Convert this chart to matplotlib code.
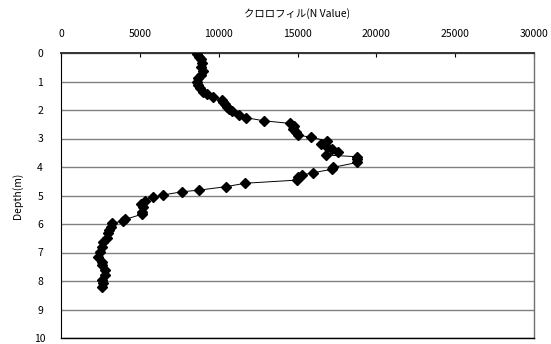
import matplotlib
matplotlib.use("Agg")
import matplotlib.pyplot as plt

plt.rcParams['font.family'] = ['Noto Sans CJK JP', 'DejaVu Sans']

# chlorophyll readings (N value) against depth (m)
chl = [8650, 8760, 8860, 8930, 8860, 8990, 8860, 8710, 8650, 8710,
       8820, 8990, 9240, 9660, 10200, 10300, 10410, 10510, 10680, 10830,
       11310, 11740, 12880, 14530, 14800, 14740, 14910, 15060, 15860, 16860,
       16500, 16860, 17180, 17600, 16810, 18800, 18800, 18800, 17280, 17180,
       16010, 15270, 15060, 14960, 11680, 10470, 8780, 7660, 6500, 5820,
       5330, 5060, 5180, 5120, 5120, 4060, 3910, 3220, 3150, 3060,
       3000, 2900, 2680, 2580, 2470, 2370, 2580, 2580, 2790, 2790,
       2580, 2680, 2580]
depth = [0.04, 0.13, 0.22, 0.34, 0.48, 0.62, 0.77, 0.89, 1.01, 1.12,
         1.24, 1.36, 1.44, 1.55, 1.65, 1.71, 1.79, 1.88, 1.96, 2.05,
         2.18, 2.27, 2.38, 2.47, 2.56, 2.68, 2.78, 2.88, 2.96, 3.08,
         3.19, 3.29, 3.38, 3.46, 3.58, 3.64, 3.73, 3.84, 4.01, 4.08,
         4.20, 4.28, 4.36, 4.46, 4.57, 4.69, 4.81, 4.87, 4.98, 5.06,
         5.18, 5.30, 5.39, 5.57, 5.66, 5.84, 5.89, 5.98, 6.09, 6.21,
         6.33, 6.50, 6.62, 6.80, 6.97, 7.15, 7.32, 7.44, 7.61, 7.79,
         7.96, 8.08, 8.20]

x_ticks = [0, 5000, 10000, 15000, 20000, 25000, 30000]
y_ticks = list(range(0, 11))

fig = plt.figure(figsize=(5.51, 3.44), dpi=100)
ax = fig.add_axes([61/551, 1 - 338/344, 473/551, 285/344])

ax.plot(chl, depth, color='black', lw=0.7, marker='D', ms=4.8,
        mfc='black', mec='black', zorder=3)

ax.set_xlim(0, 30000)
ax.set_ylim(10, 0)
ax.set_xticks(x_ticks)
ax.set_yticks(y_ticks)

ax.xaxis.tick_top()
ax.xaxis.set_label_position('top')
ax.set_xlabel('クロロフィル(N Value)', fontsize=7.5, labelpad=9)
ax.set_ylabel('Depth(m)', fontsize=7.5, labelpad=8)

ax.tick_params(axis='x', direction='in', length=3, width=0.8, pad=10,
               labelsize=7.5, top=True, bottom=False)
ax.tick_params(axis='y', length=0, pad=15, labelsize=7.5)
for lab in ax.get_yticklabels():
    lab.set_horizontalalignment('center')

ax.yaxis.grid(True, color='#808080', lw=1.0)
ax.set_axisbelow(True)

ax.spines['top'].set_linewidth(1.4)
ax.spines['top'].set_color('#333333')
ax.spines['left'].set_color('black')
ax.spines['left'].set_linewidth(0.8)
ax.spines['right'].set_color('#707070')
ax.spines['right'].set_linewidth(1.0)
ax.spines['bottom'].set_color('black')
ax.spines['bottom'].set_linewidth(1.0)

fig.savefig('out.png', dpi=100)
